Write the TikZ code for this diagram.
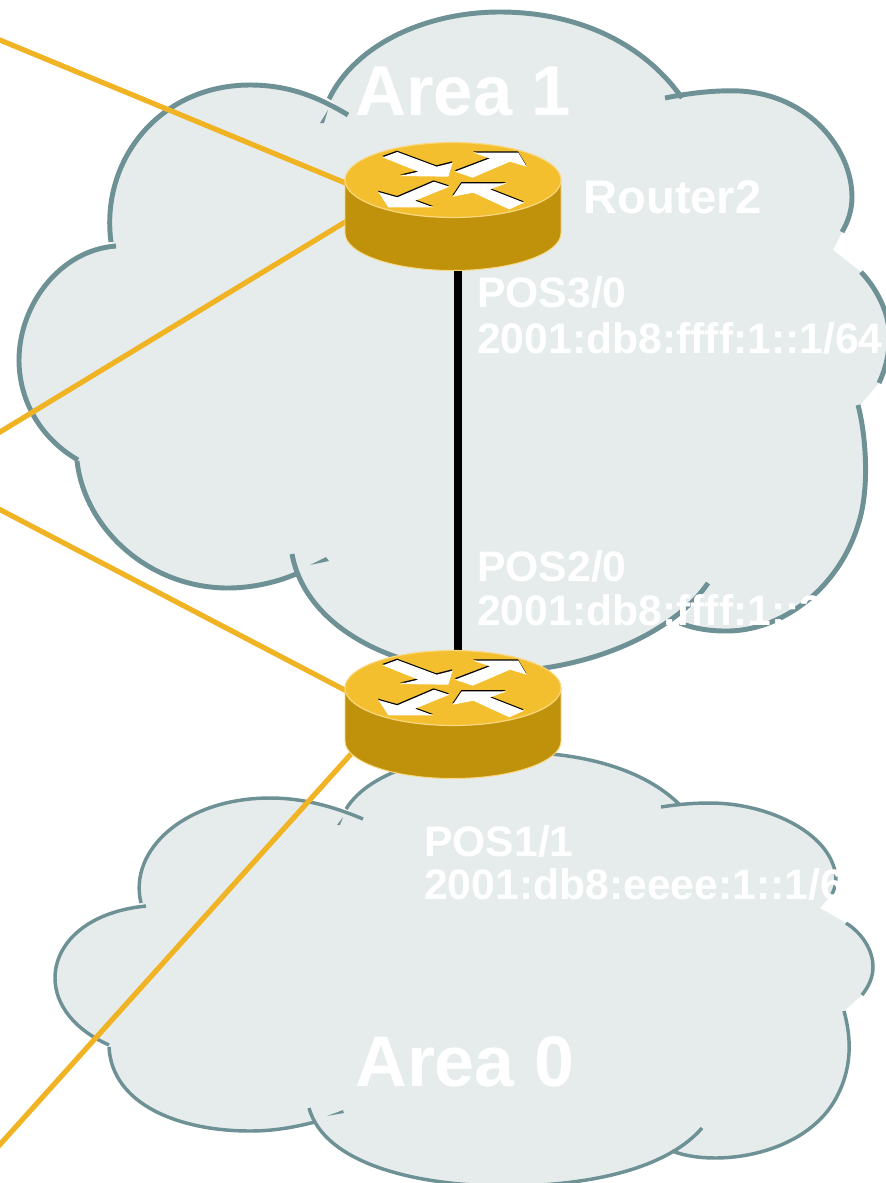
\documentclass[tikz,border=0pt]{standalone}
\usepackage{fontspec}
\setmainfont{Liberation Sans}
\definecolor{cloudline}{HTML}{6D9195}
\definecolor{cloudfill}{HTML}{E6ECEC}
\definecolor{linkcol}{HTML}{F0B323}
\definecolor{rtop}{HTML}{F3BF2E}
\definecolor{rside}{HTML}{C0920C}
\definecolor{redge}{HTML}{F8D77E}
\tikzset{
  uline/.style={draw=cloudline,line width=3.7pt,line cap=butt},
  lline/.style={draw=cloudline,line width=2.6pt,line cap=butt},
  yellowlink/.style={draw=linkcol,line width=3.9pt},
  blacklink/.style={draw=black,line width=6pt},
  rbox/.style={inner sep=0pt,minimum width=162pt,minimum height=96pt},
  area/.style={text=white,font=\bfseries\fontsize{53pt}{60pt}\selectfont,inner sep=0pt,anchor=base west},
  areab/.style={text=white,font=\bfseries\fontsize{53.8pt}{60pt}\selectfont,inner sep=0pt,anchor=base west},
  lab/.style={text=white,font=\bfseries\fontsize{32pt}{33.75pt}\selectfont,inner sep=0pt,anchor=base west},
  routerlab/.style={text=white,font=\bfseries\fontsize{35.4pt}{36pt}\selectfont,inner sep=0pt,anchor=base west},
  router/.pic={
    \filldraw[fill=rside,draw=redge,line width=.7pt]
      (-108,-26.5) -- (-108,26.5) arc[start angle=180,end angle=360,x radius=81pt,y radius=28.1pt]
      -- (108,-26.5) -- cycle;
    \filldraw[fill=rtop,draw=redge,line width=.9pt] (0,-26.5) ellipse [x radius=81pt,y radius=28.1pt];
    \begin{scope}[shift={(-99.75pt,64.875pt)},x=.25pt,y=-.25pt]
      \foreach \c/\sx/\sy in {black/-1/-4,white/0/0}{
        \begin{scope}[shift={(\sx,\sy)}]
        \fill[\c] (188,112) -- (232,96) -- (350,140) -- (398,128) -- (385,170) -- (240,168) -- (295,155) -- cycle;
        \fill[\c] (405,155) -- (510,115) -- (460,98) -- (595,98) -- (620,140) -- (570,125) -- (458,173) -- cycle;
        \fill[\c] (175,216) -- (232,232) -- (342,185) -- (388,200) -- (285,242) -- (340,262) -- (205,262) -- cycle;
        \fill[\c] (398,230) -- (425,190) -- (560,190) -- (510,208) -- (612,248) -- (568,268) -- (460,218) -- cycle;
        \end{scope}
      }
    \end{scope}
  }
}
% upper cloud lobes
\def\UA{(329,99) .. controls (355,45) and (425,12) .. (500,12) .. controls (580,12) and (645,45) .. (682,98)}
\def\UB{(665,98) .. controls (690,93) and (715,90) .. (740,91) .. controls (810,95) and (852,150) .. (852,197) .. controls (852,210) and (848,222) .. (842,232)}
\def\UC{(861,272) .. controls (880,292) and (892,320) .. (889,345) .. controls (888,358) and (885,370) .. (879,383)}
\def\UD{(858,405) .. controls (866,435) and (870,490) .. (858,525) .. controls (838,590) and (780,632) .. (725,631) .. controls (708,631) and (692,628) .. (680,623)}
\def\UE{(708,583) .. controls (680,625) and (600,672) .. (490,672) .. controls (390,672) and (305,625) .. (292,554)}
\def\UF{(296,574) .. controls (275,583) and (250,588) .. (228,588) .. controls (150,588) and (85,530) .. (77,461)}
\def\UG{(78,460) .. controls (40,438) and (19,400) .. (19,360) .. controls (19,305) and (60,250) .. (116,246)}
\def\UH{(111,242) .. controls (100,160) and (160,85) .. (250,85) .. controls (290,85) and (320,98) .. (348,115)}
% lower cloud lobes
\def\DA{(346,809) .. controls (370,770) and (440,752) .. (510,752) .. controls (585,752) and (645,770) .. (680,805)}
\def\DB{(661,807) .. controls (680,804) and (695,803) .. (710,803) .. controls (770,803) and (835,835) .. (836,880) .. controls (836,885) and (834,890) .. (832,894)}
\def\DC{(846,923) .. controls (862,933) and (873,950) .. (873,967) .. controls (873,977) and (869,986) .. (862,995)}
\def\DD{(844,1011) .. controls (852,1040) and (852,1070) .. (835,1100) .. controls (812,1140) and (760,1158) .. (715,1158) .. controls (700,1158) and (685,1156) .. (672,1151)}
\def\DE{(702,1128) .. controls (670,1165) and (600,1186) .. (505,1186) .. controls (420,1186) and (325,1165) .. (309,1108)}
\def\DF{(315,1122) .. controls (295,1127) and (275,1131) .. (250,1131) .. controls (180,1131) and (112,1105) .. (109,1047)}
\def\DG{(109,1045) .. controls (75,1030) and (55,1005) .. (55,978) .. controls (55,945) and (85,912) .. (146,906)}
\def\DH{(141,903) .. controls (128,850) and (185,798) .. (270,798) .. controls (300,798) and (330,805) .. (363,819)}
\begin{document}
\begin{tikzpicture}[x=.75pt,y=-.75pt]
\useasboundingbox (0,0) rectangle (886,1183);
\clip (0,0) rectangle (886,1183);
% named places
\node[rbox] (r2) at (453,206.5) {};
\node[rbox] (r1) at (453,714.5) {};
\coordinate (e1) at (-5,38);
\coordinate (e2) at (-5,435);
\coordinate (e3) at (-5,507);
\coordinate (e4) at (-5,1150);
\coordinate (p1) at (360,189);
\coordinate (p2) at (360,213);
\coordinate (p3) at (360,698);
\coordinate (p4) at (360,744);
% --- upper cloud
\fill[cloudfill] \UA -- \UB -- (833,250) -- \UC -- (860,405) -- \UD -- \UE -- \UF -- \UG -- \UH -- cycle;
\draw[uline] \UA; \draw[uline] \UB; \draw[uline] \UC; \draw[uline] \UD;
\draw[uline] \UE; \draw[uline] \UF; \draw[uline] \UG; \draw[uline] \UH;
\fill[cloudline] (310,565) -- (326,557) -- (329,561) -- cycle;
\fill[cloudline] (320,123) -- (328,110) -- (324,123) -- cycle;
% --- lower cloud
\fill[cloudfill] \DA -- \DB -- (820,908) -- \DC -- \DD -- \DE -- \DF -- \DG -- \DH -- cycle;
\draw[lline] \DA; \draw[lline] \DB; \draw[lline] \DC; \draw[lline] \DD;
\draw[lline] \DE; \draw[lline] \DF; \draw[lline] \DG; \draw[lline] \DH;
\fill[cloudline] (327,1116) -- (343,1110) -- (344,1113) -- cycle;
\fill[cloudline] (337,825) -- (343,817) -- (340,825) -- cycle;
% connectors
\draw[yellowlink] (e1) -- (p1);
\draw[yellowlink] (e2) -- (p2);
\draw[yellowlink] (e3) -- (p3);
\draw[yellowlink] (e4) -- (p4);
\draw[blacklink] ([xshift=3.4pt]r2.center) -- ([xshift=3.4pt]r1.center);
% routers
\pic at (r2.center) {router};
\pic at (r1.center) {router};
% labels
\node[area] (a1) at (355,115) {Area 1};
\node[areab] (a0) at (355,1086) {Area 0};
\node[routerlab] (t1) at (583,213) {Router2};
\node[lab] (t2) at (477,307) {POS3/0};
\node[lab] (t3) at (477,353) {2001:db8:ffff:1::1/64};
\node[lab] (t4) at (477,581) {POS2/0};
\node[lab] (t5) at (477,625) {2001:db8:ffff:1::2/64};
\node[lab] (t6) at (424,856) {POS1/1};
\node[lab] (t7) at (424,899) {2001:db8:eeee:1::1/64};
\end{tikzpicture}
\end{document}
